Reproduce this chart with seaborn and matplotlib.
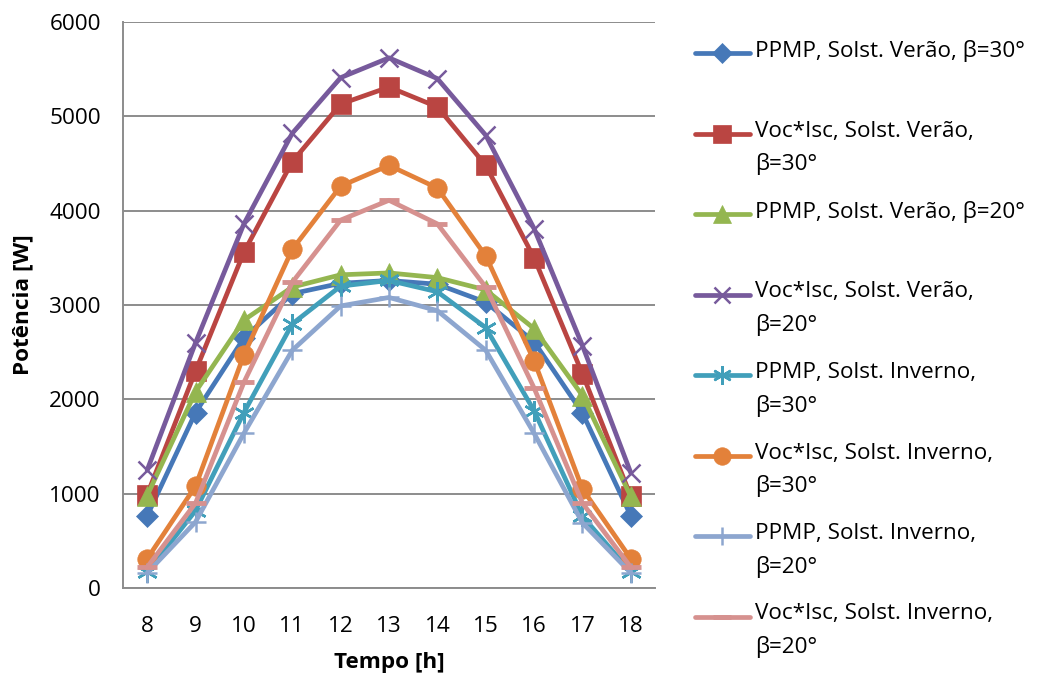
import numpy as np
import pandas as pd
import matplotlib
matplotlib.use("Agg")
import matplotlib.pyplot as plt
from matplotlib.lines import Line2D
import seaborn as sns

hours = [8, 9, 10, 11, 12, 13, 14, 15, 16, 17, 18]

ppmp_ver_30 = [765, 1860, 2650, 3120, 3230, 3260, 3220, 3030, 2610, 1855, 765]
voc_ver_30 = [990, 2300, 3560, 4520, 5130, 5310, 5100, 4480, 3500, 2270, 970]
ppmp_ver_20 = [980, 2080, 2840, 3190, 3320, 3340, 3290, 3160, 2750, 2040, 970]
voc_ver_20 = [1250, 2600, 3860, 4820, 5410, 5620, 5400, 4800, 3810, 2570, 1220]
ppmp_inv_30 = [170, 820, 1860, 2800, 3200, 3260, 3140, 2760, 1880, 760, 170]
voc_inv_30 = [310, 1080, 2470, 3590, 4260, 4480, 4240, 3520, 2410, 1050, 310]
ppmp_inv_20 = [160, 700, 1640, 2520, 2990, 3080, 2940, 2520, 1640, 690, 160]
voc_inv_20 = [220, 900, 2180, 3240, 3900, 4110, 3860, 3190, 2120, 900, 220]

labels = [
    "PPMP, Solst. Verão, β=30°",
    "Voc*Isc, Solst. Verão,\nβ=30°",
    "PPMP, Solst. Verão, β=20°",
    "Voc*Isc, Solst. Verão,\nβ=20°",
    "PPMP, Solst. Inverno,\nβ=30°",
    "Voc*Isc, Solst. Inverno,\nβ=30°",
    "PPMP, Solst. Inverno,\nβ=20°",
    "Voc*Isc, Solst. Inverno,\nβ=20°",
]
series = [ppmp_ver_30, voc_ver_30, ppmp_ver_20, voc_ver_20,
          ppmp_inv_30, voc_inv_30, ppmp_inv_20, voc_inv_20]

colors = ["#4678B8", "#BA4542", "#94B650", "#775A9C",
          "#419FBA", "#E3813A", "#8DA6CF", "#D6918F"]
# marker, size, edge width
markers = [("D", 11, 0.5), ("s", 14, 0.5), ("^", 14, 0.5), ("x", 13, 1.8),
           ((6, 2, 0), 15, 1.8), ("o", 14, 0.5), ("+", 15, 1.8), ("_", 15, 3.5)]

rows = []
for lab, vals in zip(labels, series):
    for h, v in zip(hours, vals):
        rows.append({"Tempo": h, "Potencia": v, "Serie": lab})
df = pd.DataFrame(rows)

sns.set_style("white")
plt.rcParams["font.family"] = ["Open Sans", "DejaVu Sans"]
plt.rcParams["text.color"] = "black"
plt.rcParams["axes.labelcolor"] = "black"
plt.rcParams["xtick.labelcolor"] = "black"
plt.rcParams["ytick.labelcolor"] = "black"
FS = 16.2

W, H = 1039, 677
fig = plt.figure(figsize=(W / 100, H / 100), dpi=100)
ax = fig.add_axes([123 / W, 1 - 588 / H, (655 - 123) / W, (588 - 22) / H])

for lab, col, (mk, ms, mw) in zip(labels, colors, markers):
    sub = df[df["Serie"] == lab]
    sns.lineplot(data=sub, x="Tempo", y="Potencia", ax=ax, color=col,
                 linewidth=3.4, marker=mk, markersize=ms, mec=col, mew=mw,
                 mfc=col, errorbar=None, legend=False)

ax.set_xlim(7.5, 18.5)
ax.set_ylim(0, 6000)
ax.set_xticks(hours)
ax.set_yticks(range(0, 6001, 1000))
ax.yaxis.grid(True, color="#8C8C8C", linewidth=1.4)
ax.set_axisbelow(True)
for s in ["top", "right"]:
    ax.spines[s].set_visible(False)
for s in ["left", "bottom"]:
    ax.spines[s].set_color("#8C8C8C")
    ax.spines[s].set_linewidth(1.4)
ax.tick_params(axis="y", length=7, width=1.2, color="#8C8C8C", labelsize=FS, pad=9)
ax.tick_params(axis="x", length=0, labelsize=FS, pad=20)
ax.set_xlabel("Tempo [h]", fontsize=FS, fontweight="bold", labelpad=11)
ax.set_ylabel("Potência [W]", fontsize=FS, fontweight="bold", labelpad=11)

# legend drawn as in the original (entries evenly spaced, text top-aligned)
for i, (lab, col, (mk, ms, mw)) in enumerate(zip(labels, colors, markers)):
    yy = 1 - (53 + 80.5 * i) / H
    fig.add_artist(Line2D([695 / W, 750 / W], [yy, yy], color=col, linewidth=3.4,
                          solid_capstyle="round"))
    fig.add_artist(Line2D([722 / W], [yy], color=col, marker=mk, markersize=ms * 0.9,
                          mec=col, mfc=col, mew=mw, linestyle="none"))
    fig.text(755 / W, yy + 13 / H, lab, fontsize=FS, va="top", ha="left",
             linespacing=1.7)

fig.savefig("out.png", dpi=100)
